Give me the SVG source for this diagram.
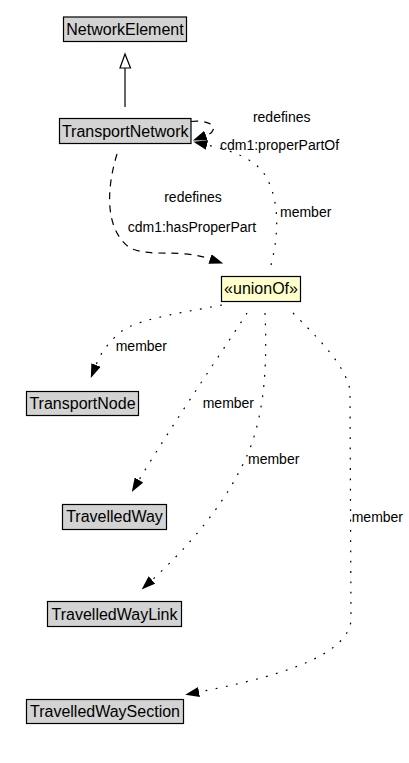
<svg xmlns="http://www.w3.org/2000/svg" width="409" height="763" viewBox="0 0 409 763">
<style>
.node rect{fill:#d3d3d3;stroke:#000;stroke-width:1.2}
.node.u rect{fill:#ffffcc}
.node text{font-family:"Liberation Sans",Arial,sans-serif;font-size:16px;text-anchor:middle;fill:#000}
.lbl{font-family:"Liberation Sans",Arial,sans-serif;font-size:14px;fill:#000}
.e{fill:none;stroke:#000;stroke-width:1.2}
.dash{stroke-dasharray:7,6}
.dot{stroke-dasharray:1.8,8.5}
</style>
<defs>
<marker id="arr" viewBox="0 0 14 10" refX="0" refY="5" markerWidth="14" markerHeight="10" markerUnits="userSpaceOnUse" orient="auto">
<path d="M0,0 L14,5 L0,10 z" fill="#000"/>
</marker>
</defs>
<g id="connectors">
<line class="e" x1="125" y1="107" x2="125" y2="68"/>
<polygon points="125,54 120,68 130.5,68" fill="#fff" stroke="#000" stroke-width="1.2"/>
<path class="e dash" d="M191,121.5 C205,120 216,124 213,130 C212,133 210,134 206,135.5" marker-end="url(#arr)"/>
<path class="e dot" d="M271,265 C280,230 279,195 263,172 C250,156 228,150 207,145" marker-end="url(#arr)"/>
<path class="e dash" d="M117,154 C106,190 105,230 130,248 C152,258 178,248 210,259" marker-end="url(#arr)"/>
<path class="e dot" d="M222,305 C170,315 130,320 115,337 C105,347 100,355 96,365" marker-end="url(#arr)"/>
<path class="e dot" d="M247,313 C230,340 175,420 139,480" marker-end="url(#arr)"/>
<path class="e dot" d="M265,313 C268,380 262,430 240,470 C220,510 185,550 152,580" marker-end="url(#arr)"/>
<path class="e dot" d="M293,313 C320,340 345,365 350,390 L351,620 C348,660 260,680 199,692" marker-end="url(#arr)"/>
<text class="lbl" x="281.7" y="121.7" text-anchor="middle">redefines</text>
<text class="lbl" x="220" y="150">cdm1:properPartOf</text>
<text class="lbl" x="193" y="202" text-anchor="middle">redefines</text>
<text class="lbl" x="127.7" y="231.7">cdm1:hasProperPart</text>
<text class="lbl" x="280" y="216.7">member</text>
<text class="lbl" x="115.7" y="350.7">member</text>
<text class="lbl" x="202.7" y="407.7">member</text>
<text class="lbl" x="248" y="464.3">member</text>
<text class="lbl" x="351.7" y="521.7">member</text>
</g>
<g id="NetworkElement" class="node"><rect x="63.5" y="17" width="123" height="24.5"/><text x="125" y="34.5">NetworkElement</text></g>
<g id="TransportNetwork" class="node"><rect x="59.5" y="118.5" width="131.5" height="25"/><text x="125.2" y="136.5">TransportNetwork</text></g>
<g id="unionOf" class="node u"><rect x="221.5" y="276.5" width="79" height="25"/><text x="261" y="294">«unionOf»</text></g>
<g id="TransportNode" class="node"><rect x="26.5" y="391.5" width="112" height="24"/><text x="82.5" y="408.5">TransportNode</text></g>
<g id="TravelledWay" class="node"><rect x="62.5" y="504.5" width="104" height="25"/><text x="114.5" y="522">TravelledWay</text></g>
<g id="TravelledWayLink" class="node"><rect x="47.5" y="601.5" width="134" height="25"/><text x="114.5" y="619.5">TravelledWayLink</text></g>
<g id="TravelledWaySection" class="node"><rect x="26.5" y="699.5" width="157" height="24"/><text x="105" y="716.5">TravelledWaySection</text></g>
</svg>
